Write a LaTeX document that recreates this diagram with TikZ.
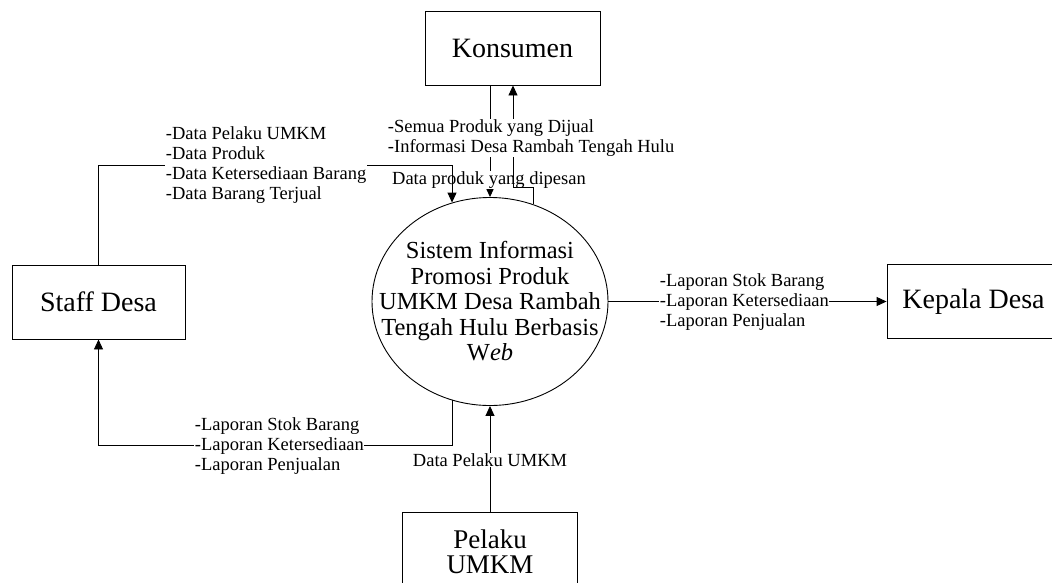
\documentclass[tikz,border=0pt]{standalone}
\usepackage{fontspec}
\setmainfont{Liberation Serif}
\usetikzlibrary{arrows.meta,shapes.geometric}
\begin{document}
\begin{tikzpicture}[x=1pt,y=-1pt, line width=0.9pt,
  entity/.style={draw, minimum width=173pt, minimum height=74pt, font=\fontsize{28}{30}\selectfont, align=center, inner sep=0pt},
  lbl/.style={fill=white, inner sep=0.5pt, align=left, font=\fontsize{18.5}{20}\selectfont},
  arr/.style={-{Triangle[length=10pt,width=9pt]}}]
\useasboundingbox (0,0) rectangle (1052,582);
\clip (0,0) rectangle (1052,582);

% entities and process
\node[entity, minimum width=175pt] (kons) at (512.5,48) {Konsumen};
\node[entity] (staff) at (98.5,302) {Staff Desa};
\node[entity] (kep) at (973.5,301.5) {Kepala Desa};
\node[entity, minimum width=175pt, minimum height=80pt, font=\fontsize{27}{25}\selectfont] (pel) at (490,552) {Pelaku\\UMKM};
\node[draw, ellipse, minimum width=236pt, minimum height=208pt, inner sep=0pt] (sys) at (490,301.5) {};
\node[align=center, inner sep=0pt, font=\fontsize{24.5}{25.5}\selectfont] (systext) at (sys.center)
      {Sistem Informasi\\Promosi Produk\\UMKM Desa Rambah\\Tengah Hulu Berbasis\\W\textit{eb}};

% Konsumen -> sistem
\draw[arr] (kons.south -| sys.north) -- (sys.north);
\node[lbl] (lpesan) at (489,180) {Data produk yang dipesan};
% sistem -> Konsumen
\coordinate (k2) at (513,187);
\draw[arr] (sys.66) |- (k2) -- (k2 |- kons.south);
\node[lbl, anchor=west] (lkons) at (387,138) {-Semua Produk yang Dijual\\-Informasi Desa Rambah Tengah Hulu};

% Staff Desa -> sistem
\coordinate (s1) at (0,165);
\draw[arr] (staff.north) |- (sys.111 |- s1) -- (sys.111);
\node[lbl, anchor=west] (lstaff) at (165,165) {-Data Pelaku UMKM\\-Data Produk\\-Data Ketersediaan Barang\\-Data Barang Terjual};

% sistem -> Staff Desa
\coordinate (b1) at (0,445);
\draw[arr] (sys.-111) |- (staff.south |- b1) -- (staff.south);
\node[lbl, anchor=west] (lstaffb) at (194,446) {-Laporan Stok Barang\\-Laporan Ketersediaan\\-Laporan Penjualan};

% sistem -> Kepala Desa
\draw[arr] (sys.east) -- (kep.west);
\node[lbl, anchor=west] (lkep) at (659,302) {-Laporan Stok Barang\\-Laporan Ketersediaan\\-Laporan Penjualan};

% Pelaku UMKM -> sistem
\draw[arr] (pel.north) -- (sys.south);
\node[lbl] (lpel) at (490,460) {Data Pelaku UMKM};
\end{tikzpicture}
\end{document}
